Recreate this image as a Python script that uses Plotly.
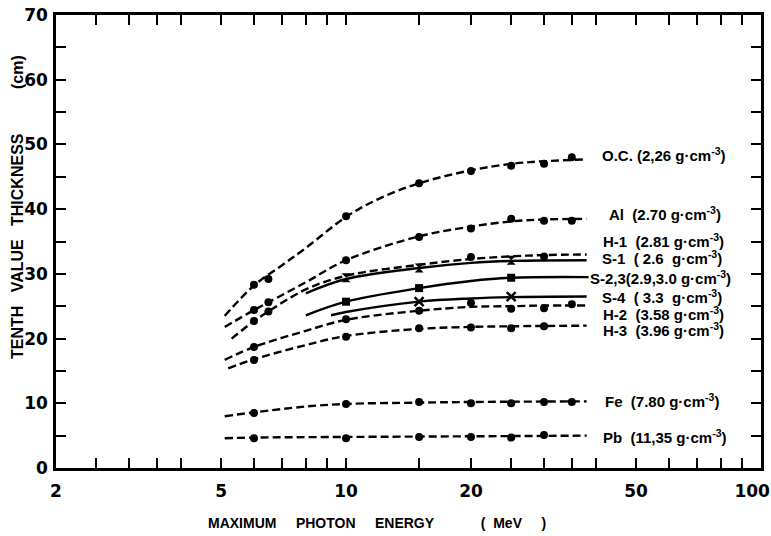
import plotly.graph_objects as go
import math

# ---------------- data ----------------
# smooth fitted curves: energy (MeV) and tenth value thickness (cm)
oc_curve_E = [5.1, 6, 7, 8, 10, 12, 15, 20, 25, 30, 38]
oc_curve_V = [23.5, 28.2, 31.3, 34.0, 38.8, 41.6, 44.0, 46.0, 47.0, 47.4, 47.7]
al_curve_E = [5.1, 6, 6.5, 8, 10, 15, 20, 25, 30, 38]
al_curve_V = [21.8, 24.4, 25.6, 28.7, 32.1, 35.8, 37.3, 38.1, 38.4, 38.5]
h1_curve_E = [5.3, 6, 6.5, 8, 10, 15, 20, 25, 30, 38]
h1_curve_V = [20.0, 22.7, 24.2, 27.6, 29.7, 31.4, 32.3, 32.7, 32.9, 33.0]
s1_curve_E = [8, 10, 15, 20, 25, 38]
s1_curve_V = [27.0, 29.2, 30.9, 31.7, 32.0, 32.1]
s23_curve_E = [8, 10, 15, 20, 25, 38.4]
s23_curve_V = [23.6, 25.7, 27.8, 28.9, 29.4, 29.5]
s4_curve_E = [9.2, 10, 15, 20, 25, 38]
s4_curve_V = [23.6, 24.1, 25.7, 26.2, 26.4, 26.5]
h2_curve_E = [5.1, 6, 8, 10, 15, 20, 25, 30, 38]
h2_curve_V = [16.7, 18.7, 21.2, 22.9, 24.3, 24.9, 25.0, 25.1, 25.1]
h3_curve_E = [5.2, 6, 8, 10, 15, 20, 25, 38]
h3_curve_V = [15.4, 16.8, 19.0, 20.4, 21.5, 21.8, 21.9, 22.0]
fe_curve_E = [5.1, 6, 8, 10, 15, 20, 38]
fe_curve_V = [8.0, 8.6, 9.5, 9.9, 10.1, 10.2, 10.3]
pb_curve_E = [5.1, 6, 10, 20, 38]
pb_curve_V = [4.6, 4.7, 4.8, 4.9, 5.0]

# measured points
oc_pts_E = [6, 6.5, 10, 15, 20, 25, 30, 35]
oc_pts_V = [28.3, 29.2, 38.9, 44.0, 45.9, 46.7, 47.0, 48.0]
al_pts_E = [6, 6.5, 10, 15, 20, 25, 30, 35]
al_pts_V = [24.4, 25.6, 32.1, 35.7, 37.0, 38.5, 38.2, 38.2]
h1_pts_E = [6, 6.5, 20, 30]
h1_pts_V = [22.7, 24.2, 32.6, 32.7]
s1_pts_E = [10, 15, 25]
s1_pts_V = [29.4, 30.9, 32.1]
s23_pts_E = [10, 15, 25]
s23_pts_V = [25.7, 27.8, 29.4]
s4_pts_E = [15, 25]
s4_pts_V = [25.7, 26.5]
h2_pts_E = [6, 10, 15, 20, 25, 30, 35]
h2_pts_V = [18.7, 23.0, 24.3, 25.5, 24.6, 24.7, 25.3]
h3_pts_E = [6, 10, 15, 20, 25, 30]
h3_pts_V = [16.7, 20.3, 21.6, 21.7, 21.6, 21.9]
fe_pts_E = [6, 10, 15, 20, 25, 30, 35]
fe_pts_V = [8.5, 9.9, 10.2, 10.0, 10.0, 10.2, 10.2]
pb_pts_E = [6, 10, 15, 20, 25, 30]
pb_pts_V = [4.6, 4.6, 4.8, 4.8, 4.7, 5.1]

NB = "\u00a0"
label_texts = [
    "O.C. (2,26 g·cm<sup>-3</sup>)",
    "Al" + NB * 2 + "(2.70 g·cm<sup>-3</sup>)",
    "H-1" + NB * 2 + "(2.81 g·cm<sup>-3</sup>)",
    "S-1" + NB * 2 + "(" + NB + "2.6" + NB * 2 + "g·cm<sup>-3</sup>)",
    "S-2,3(2.9,3.0 g·cm<sup>-3</sup>)",
    "S-4" + NB * 2 + "(" + NB + "3.3" + NB * 2 + "g·cm<sup>-3</sup>)",
    "H-2" + NB * 2 + "(3.58 g·cm<sup>-3</sup>)",
    "H-3" + NB * 2 + "(3.96 g·cm<sup>-3</sup>)",
    "Fe" + NB * 2 + "(7.80 g·cm<sup>-3</sup>)",
    "Pb" + NB * 2 + "(11,35 g·cm<sup>-3</sup>)",
]
label_values = [48.5, 39.4, 35.1, 32.6, 29.5, 26.5, 23.9, 21.4, 10.4, 4.9]

x_tickvals = [2, 2.5, 3, 3.5, 4, 5, 6, 7, 8, 9, 10, 15, 20, 25, 30, 35, 40,
              50, 60, 70, 80, 90, 100]
x_ticklabels = {2: "2", 5: "5", 10: "10", 20: "20", 50: "50",
                100: "100" + "\u00a0" * 3}
y_tickvals = list(range(0, 75, 5))

# ---------------- layout constants ----------------
W, H = 771, 536
L, R, T, B = 56, 10, 15, 68
PW = W - L - R
PH = H - T - B
label_px = [601, 608, 602, 601, 589, 601, 602, 602, 604, 602]

DASH = "8px,4px"
TXT_FONT = "Liberation Sans, Arial, sans-serif"
TICK_FONT = "DejaVu Sans, sans-serif"

fig = go.Figure()


def add_series(cE, cV, pE, pV, dash, symbol, msize, mline=0):
    fig.add_trace(go.Scatter(
        x=cE, y=cV, mode="lines",
        line=dict(color="black", width=2.4, dash=dash, shape="spline"),
        hoverinfo="skip", showlegend=False))
    marker = dict(color="black", size=msize, symbol=symbol)
    if mline:
        marker["line"] = dict(color="black", width=mline)
    fig.add_trace(go.Scatter(
        x=pE, y=pV, mode="markers", marker=marker, showlegend=False))


add_series(oc_curve_E, oc_curve_V, oc_pts_E, oc_pts_V, DASH, "circle", 8)
add_series(al_curve_E, al_curve_V, al_pts_E, al_pts_V, DASH, "circle", 8)
add_series(h1_curve_E, h1_curve_V, h1_pts_E, h1_pts_V, DASH, "circle", 8)
add_series(s1_curve_E, s1_curve_V, s1_pts_E, s1_pts_V, "solid", "hourglass", 9)
add_series(s23_curve_E, s23_curve_V, s23_pts_E, s23_pts_V, "solid", "square", 8)
add_series(s4_curve_E, s4_curve_V, s4_pts_E, s4_pts_V, "solid", "x-thin", 9, 2.5)
add_series(h2_curve_E, h2_curve_V, h2_pts_E, h2_pts_V, DASH, "circle", 8)
add_series(h3_curve_E, h3_curve_V, h3_pts_E, h3_pts_V, DASH, "circle", 8)
add_series(fe_curve_E, fe_curve_V, fe_pts_E, fe_pts_V, DASH, "circle", 8)
add_series(pb_curve_E, pb_curve_V, pb_pts_E, pb_pts_V, DASH, "circle", 8)

annotations = []
for txt, val, px in zip(label_texts, label_values, label_px):
    annotations.append(dict(
        x=(px - L) / PW, xref="paper", y=val, yref="y",
        text=txt, showarrow=False, xanchor="left", yanchor="middle",
        borderpad=0,
        font=dict(family=TXT_FONT, size=15, color="black", weight="bold")))

x_title = ("MAXIMUM" + NB * 5 + "PHOTON" + NB * 5 + "ENERGY" + NB * 12 +
           "(" + NB * 2 + "MeV" + NB * 5 + ")")
annotations.append(dict(
    x=(206 - L) / PW, xref="paper", y=(H - B - 523) / PH, yref="paper",
    text=x_title, showarrow=False, xanchor="left", yanchor="middle",
    font=dict(family=TXT_FONT, size=14, color="black", weight="bold")))

y_title = ("TENTH" + NB * 3 + "VALUE" + NB * 3 + "THICKNESS" + NB * 10 + "(cm)")
annotations.append(dict(
    x=(17 - L) / PW, xref="paper", y=(H - B - 207) / PH, yref="paper",
    text=y_title, showarrow=False, textangle=-90,
    xanchor="center", yanchor="middle",
    font=dict(family=TXT_FONT, size=16, color="black", weight="bold")))

fig.update_layout(
    width=W, height=H, autosize=False,
    margin=dict(l=L, r=R, t=T, b=B, pad=0, autoexpand=False),
    paper_bgcolor="white", plot_bgcolor="white",
    showlegend=False,
    annotations=annotations,
    xaxis=dict(
        type="log", range=[math.log10(2), 2],
        tickvals=x_tickvals,
        ticktext=[x_ticklabels.get(v, "") for v in x_tickvals],
        ticks="inside", ticklen=10, tickwidth=2, tickcolor="black",
        showline=True, linecolor="black", linewidth=2.5, mirror="ticks",
        showgrid=False, zeroline=False, automargin=False,
        ticklabelstandoff=6, ticklabeloverflow="allow",
        tickfont=dict(family=TICK_FONT, size=17, color="black", weight="bold"),
    ),
    yaxis=dict(
        range=[0, 70],
        tickvals=y_tickvals,
        ticktext=[str(v) if v % 10 == 0 else "" for v in y_tickvals],
        ticks="inside", ticklen=10, tickwidth=2, tickcolor="black",
        showline=True, linecolor="black", linewidth=2.5, mirror="ticks",
        showgrid=False, zeroline=False, automargin=False,
        ticklabelstandoff=2, ticklabeloverflow="allow",
        tickfont=dict(family=TICK_FONT, size=17, color="black", weight="bold"),
    ),
)

fig.write_html(
    "out.html",
    config={"displayModeBar": False, "responsive": False},
    post_script="document.body.style.margin='0px';"
                "document.body.style.overflow='hidden';",
)
